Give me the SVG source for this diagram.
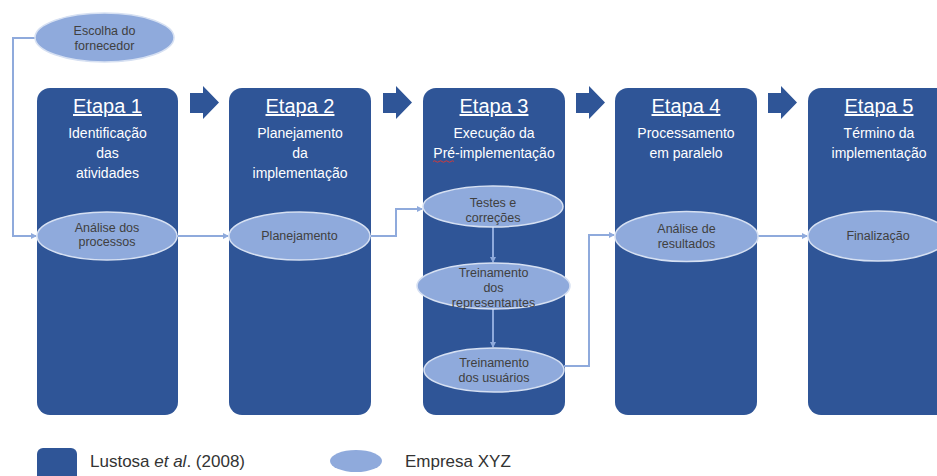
<svg xmlns="http://www.w3.org/2000/svg" width="937" height="476" viewBox="0 0 937 476">
  <style>
    .box { fill: #2F5597; }
    .blk { fill: #2F5597; }
    .ell { fill: #8FAADC; stroke: #D6E0F2; stroke-width: 1.5; }
    .ttl { font-family: "Liberation Sans", Arial, sans-serif; font-size: 20px; fill: #FFFFFF; text-anchor: middle; text-decoration: underline; }
    .sub { font-family: "Liberation Sans", Arial, sans-serif; font-size: 14px; fill: #FFFFFF; text-anchor: middle; }
    .et { font-family: "Liberation Sans", Arial, sans-serif; font-size: 12.5px; fill: #404040; text-anchor: middle; }
    .lg { font-family: "Liberation Sans", Arial, sans-serif; font-size: 17px; fill: #333333; }
    .cn { fill: none; stroke: #8FAADC; stroke-width: 2; marker-end: url(#ah); }
  </style>
  <defs>
    <marker id="ah" markerWidth="6" markerHeight="6" refX="5" refY="3" orient="auto" markerUnits="userSpaceOnUse">
      <path d="M0,0 L6,3 L0,6 Z" fill="#8FAADC"/>
    </marker>
    <path id="blockArrow" d="M0,7 H13 V0 L29,16.5 L13,33 V27 H0 Z"/>
  </defs>

  <!-- stage columns -->
  <g id="etapa1">
    <rect class="box" x="37" y="88" width="141" height="327" rx="13"/>
    <text class="ttl" x="107.5" y="113">Etapa 1</text>
    <text class="sub" x="107.5" y="138">Identificação</text>
    <text class="sub" x="107.5" y="158">das</text>
    <text class="sub" x="107.5" y="178">atividades</text>
  </g>
  <g id="etapa2">
    <rect class="box" x="229" y="88" width="142" height="327" rx="13"/>
    <text class="ttl" x="300" y="113">Etapa 2</text>
    <text class="sub" x="300" y="138">Planejamento</text>
    <text class="sub" x="300" y="158">da</text>
    <text class="sub" x="300" y="178">implementação</text>
  </g>
  <g id="etapa3">
    <rect class="box" x="423" y="88" width="142" height="327" rx="13"/>
    <text class="ttl" x="494" y="113">Etapa 3</text>
    <text class="sub" x="494" y="138">Execução da</text>
    <text class="sub" x="494" y="158">Pré-implementação</text>
    <!-- spell-check squiggle under "Pré" -->
    <path d="M433,161.5 q1.5,-1.5 3,0 t3,0 t3,0 t3,0 t3,0 t3,0 t3,0" fill="none" stroke="#D23A3A" stroke-width="1"/>
  </g>
  <g id="etapa4">
    <rect class="box" x="615" y="88" width="142" height="327" rx="13"/>
    <text class="ttl" x="686" y="113">Etapa 4</text>
    <text class="sub" x="686" y="138">Processamento</text>
    <text class="sub" x="686" y="158">em paralelo</text>
  </g>
  <g id="etapa5">
    <rect class="box" x="808" y="88" width="142" height="327" rx="13"/>
    <text class="ttl" x="879" y="113">Etapa 5</text>
    <text class="sub" x="879" y="138">Término da</text>
    <text class="sub" x="879" y="158">implementação</text>
  </g>

  <!-- block arrows between stages -->
  <g id="stage-arrows" class="blk">
    <use href="#blockArrow" x="190" y="86"/>
    <use href="#blockArrow" x="383" y="86"/>
    <use href="#blockArrow" x="576" y="86"/>
    <use href="#blockArrow" x="768" y="86"/>
  </g>

  <!-- connectors -->
  <g id="connectors">
    <path class="cn" d="M35,38 H13 V236 H36"/>
    <path class="cn" d="M177,236 H228"/>
    <path class="cn" d="M370,236 H396 V209 H422"/>
    <path class="cn" d="M493,227 V262"/>
    <path class="cn" d="M493,309 V347"/>
    <path class="cn" d="M564,366 H589 V235 H614"/>
    <path class="cn" d="M758,236 H807"/>
  </g>

  <!-- company activities -->
  <g id="escolha">
    <ellipse class="ell" cx="104.5" cy="37.5" rx="69.5" ry="24.5"/>
    <text class="et" x="104.5" y="35">Escolha do</text>
    <text class="et" x="104.5" y="50">fornecedor</text>
  </g>
  <g id="analise-processos">
    <ellipse class="ell" cx="107" cy="236" rx="70" ry="24"/>
    <text class="et" x="107" y="232">Análise dos</text>
    <text class="et" x="107" y="246">processos</text>
  </g>
  <g id="planejamento">
    <ellipse class="ell" cx="299.5" cy="236" rx="70.5" ry="24"/>
    <text class="et" x="299.5" y="240">Planejamento</text>
  </g>
  <g id="testes">
    <ellipse class="ell" cx="493" cy="206.5" rx="70" ry="20.5"/>
    <text class="et" x="493" y="207">Testes e</text>
    <text class="et" x="493" y="222">correções</text>
  </g>
  <g id="treino-representantes">
    <ellipse class="ell" cx="493.5" cy="286" rx="76.5" ry="23"/>
    <text class="et" x="493.5" y="277">Treinamento</text>
    <text class="et" x="493.5" y="292">dos</text>
    <text class="et" x="493.5" y="307">representantes</text>
  </g>
  <g id="treino-usuarios">
    <ellipse class="ell" cx="494" cy="370" rx="70" ry="22"/>
    <text class="et" x="494" y="367">Treinamento</text>
    <text class="et" x="494" y="382">dos usuários</text>
  </g>
  <g id="analise-resultados">
    <ellipse class="ell" cx="686.5" cy="236.5" rx="71.5" ry="25"/>
    <text class="et" x="686.5" y="233">Análise de</text>
    <text class="et" x="686.5" y="248">resultados</text>
  </g>
  <g id="finalizacao">
    <ellipse class="ell" cx="878" cy="236" rx="70" ry="25"/>
    <text class="et" x="878" y="240">Finalização</text>
  </g>

  <!-- legend -->
  <g id="legend">
    <rect class="box" x="37" y="448" width="40" height="40" rx="6"/>
    <text class="lg" x="90" y="467">Lustosa <tspan font-style="italic">et al</tspan>. (2008)</text>
    <ellipse fill="#8FAADC" cx="356" cy="461" rx="26" ry="11"/>
    <text class="lg" x="405" y="467" font-size="16">Empresa XYZ</text>
  </g>
</svg>
